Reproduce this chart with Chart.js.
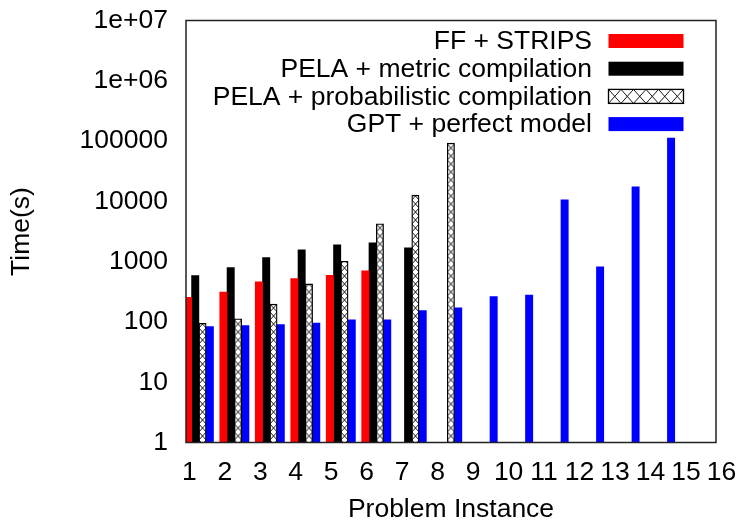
<!DOCTYPE html>
<html>
<head>
<meta charset="utf-8">
<title>Time per problem instance</title>
<script src="https://cdn.jsdelivr.net/npm/chart.js@4.4.1/dist/chart.umd.min.js"></script>
<style>
html, body { margin: 0; padding: 0; background: #fff; }
</style>
</head>
<body>
<canvas id="myChart" width="737" height="523"></canvas>
<script>
// problem instances (x tick labels)
const instances = [1, 2, 3, 4, 5, 6, 7, 8, 9, 10, 11, 12, 13, 14, 15, 16];

// time in seconds (null = no bar)
const ffStrips   = [257, 314, 461, 523, 595, 701, null, null, null, null, null, null, null, null, null, null];
const pelaMetric = [586, 796, 1166, 1565, 1895, 2045, 1689, null, null, null, null, null, null, null, null, null];
const pelaProb   = [95, 113, 197, 427, 1016, 4227, 12650, 92300, null, null, null, null, null, null, null, null];
const gptPerfect = [84, 87, 90, 96, 108, 108, 154, 171, 263, 280, 10570, 817, 17380, 111700, null, null];

const seriesNames = ["FF + STRIPS", "PELA + metric compilation", "PELA + probabilistic compilation", "GPT + perfect model"];

// y axis decades
const yTicks = [1, 10, 100, 1000, 10000, 100000, 1000000, 10000000];
const yTickLabels = ["1", "10", "100", "1000", "10000", "100000", "1e+06", "1e+07"];

const FONT = "Liberation Sans";
const FSIZE = 26.5;

// x range of the plot box and how far bar groups sit right of their tick
let xMin = 0.907, xMax = 15.845, barShift = 0.27;

function points(values) {
  return values.map((v, i) => ({ x: instances[i], y: v }));
}

// little X tile for the crosshatched bars
function makeHatch(w, h) {
  let c = document.createElement("canvas");
  c.width = w;
  c.height = h;
  let g = c.getContext("2d");
  g.fillStyle = "#fff";
  g.fillRect(0, 0, w, h);
  g.strokeStyle = "#000";
  g.lineWidth = 0.9;
  g.beginPath();
  g.moveTo(0, 0); g.lineTo(w, h);
  g.moveTo(w, 0); g.lineTo(0, h);
  g.stroke();
  return c;
}
const hatchTile = makeHatch(7, 8);

function hatchFill(context) {
  let chart = context.chart;
  let pattern = chart.ctx.createPattern(hatchTile, "repeat");
  if (context.parsed && chart.scales.xBars) {
    // third bar of the group starts at the group centre
    let left = chart.scales.xBars.getPixelForValue(context.parsed.x);
    pattern.setTransform(new DOMMatrix().translate(left, 0).scale(7.3 / 7, 1));
  }
  return pattern;
}

// frame round the plot
const framePlugin = {
  id: "frame",
  afterDatasetsDraw(chart) {
    let a = chart.chartArea;
    let ctx = chart.ctx;
    ctx.save();
    ctx.strokeStyle = "#222";
    ctx.lineWidth = 1.5;
    ctx.strokeRect(a.left, a.top, a.right - a.left, a.bottom - a.top);
    ctx.restore();
  }
};

// gnuplot style key: text right aligned, swatch on the right
const keyPlugin = {
  id: "key",
  afterDraw(chart) {
    let ctx = chart.ctx;
    ctx.save();
    ctx.font = FSIZE + "px '" + FONT + "'";
    ctx.textAlign = "right";
    ctx.textBaseline = "middle";
    chart.data.datasets.forEach((ds, i) => {
      let y = 41 + i * 27.7;
      ctx.fillStyle = "#000";
      ctx.fillText(ds.label, 592, y + 1);
      let bx = 608.5, bw = 75, bh = 14;
      if (typeof ds.backgroundColor === "function") {
        ctx.fillStyle = "#fff";
        ctx.fillRect(bx, y - bh / 2, bw, bh);
        ctx.strokeStyle = "#000";
        ctx.lineWidth = 0.9;
        let n = 6, cw = bw / n;
        ctx.beginPath();
        for (let k = 0; k < n; k++) {
          ctx.moveTo(bx + k * cw, y - bh / 2); ctx.lineTo(bx + (k + 1) * cw, y + bh / 2);
          ctx.moveTo(bx + (k + 1) * cw, y - bh / 2); ctx.lineTo(bx + k * cw, y + bh / 2);
        }
        ctx.stroke();
        ctx.lineWidth = 1.3;
        ctx.strokeRect(bx, y - bh / 2, bw, bh);
      } else {
        ctx.fillStyle = ds.backgroundColor;
        ctx.fillRect(bx, y - bh / 2, bw, bh);
      }
    });
    ctx.restore();
  }
};

const data = {
  datasets: [
    { label: seriesNames[0], data: points(ffStrips), backgroundColor: "#ff0000", borderWidth: 0 },
    { label: seriesNames[1], data: points(pelaMetric), backgroundColor: "#000000", borderWidth: 0 },
    { label: seriesNames[2], data: points(pelaProb), backgroundColor: hatchFill, borderColor: "#000", borderWidth: 1.3 },
    { label: seriesNames[3], data: points(gptPerfect), backgroundColor: "#0000ff", borderWidth: 0 }
  ]
};
data.datasets.forEach(ds => {
  ds.xAxisID = "xBars";
  ds.yAxisID = "y";
  ds.barThickness = 7.3;
});

const config = {
  type: "bar",
  data: data,
  options: {
    responsive: false,
    animation: false,
    devicePixelRatio: 1,
    layout: { padding: { left: 0, right: 21, top: 20.5, bottom: 0 } },
    plugins: {
      legend: { display: false },
      tooltip: { enabled: false }
    },
    scales: {
      x: {
        type: "linear",
        position: "bottom",
        min: xMin,
        max: xMax,
        offset: false,
        grid: { display: false, drawTicks: false, offset: false },
        border: { display: false },
        ticks: {
          autoSkip: false,
          maxRotation: 0,
          padding: 14,
          color: "#000",
          font: { family: FONT, size: FSIZE },
          callback: v => String(v)
        },
        afterBuildTicks: s => { s.ticks = instances.map(v => ({ value: v })); },
        afterFit: s => { s.height = 80.5; s.paddingLeft = 0; s.paddingRight = 0; },
        title: {
          display: true,
          text: "Problem Instance",
          color: "#000",
          font: { family: FONT, size: FSIZE, lineHeight: 1 },
          padding: { top: 0, bottom: 0 }
        }
      },
      xBars: {
        type: "linear",
        axis: "x",
        display: false,
        offset: false,
        min: xMin - barShift,
        max: xMax - barShift,
        grid: { offset: false },
        ticks: { stepSize: 1, includeBounds: false }
      },
      y: {
        type: "logarithmic",
        position: "left",
        min: 1,
        max: 10000000,
        grid: { display: false, drawTicks: false },
        border: { display: false },
        ticks: {
          padding: 18,
          color: "#000",
          font: { family: FONT, size: FSIZE },
          callback: v => {
            let i = yTicks.indexOf(v);
            return i >= 0 ? yTickLabels[i] : "";
          }
        },
        afterBuildTicks: s => { s.ticks = yTicks.map(v => ({ value: v, major: true })); },
        afterFit: s => { s.width = 186; s.paddingTop = 0; s.paddingBottom = 0; },
        title: {
          display: true,
          text: "Time(s)",
          color: "#000",
          font: { family: FONT, size: FSIZE, lineHeight: 1 },
          padding: { top: 8.5, bottom: 0 }
        }
      }
    }
  },
  plugins: [framePlugin, keyPlugin]
};

let canvasChart = document.getElementById("myChart");
new Chart(canvasChart, config);
</script>
</body>
</html>
